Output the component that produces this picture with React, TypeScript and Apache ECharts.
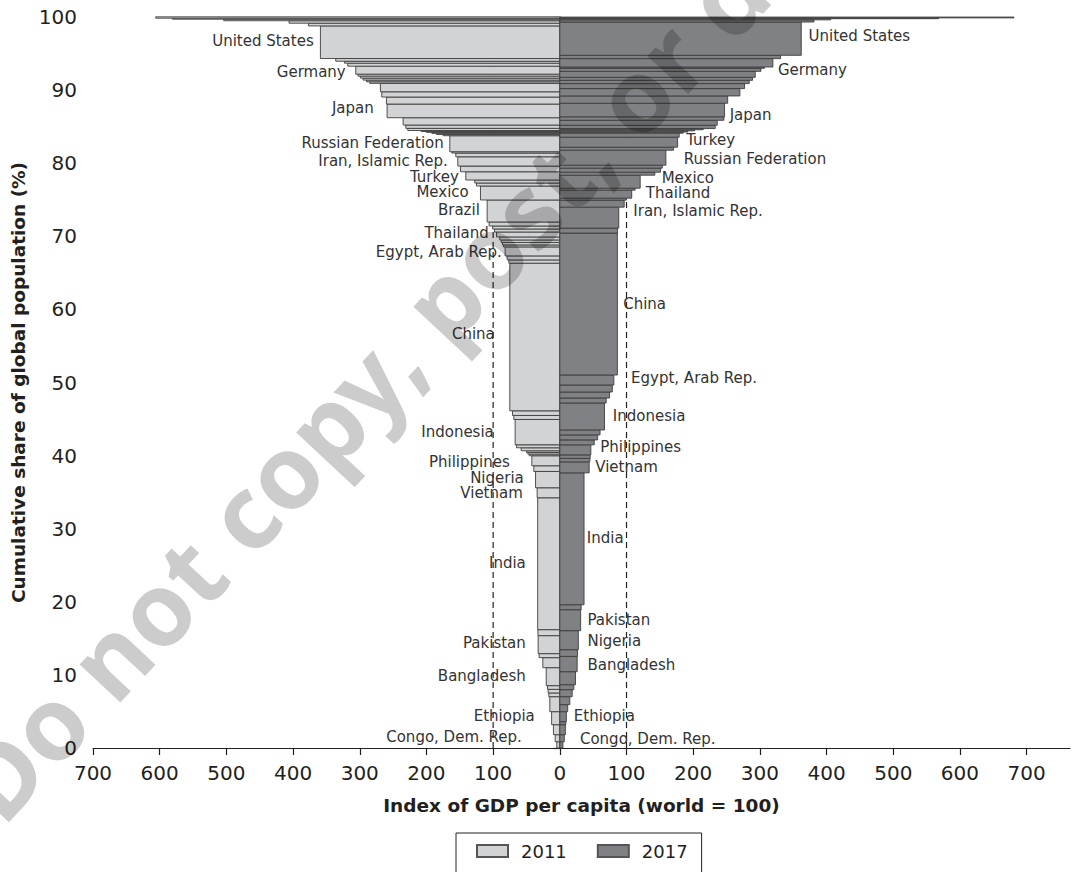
import React, { useEffect, useRef } from "react";
import * as echarts from "echarts";

// ---------- 2011 (left side), from poorest (bottom) to richest (top) ----------
const COUNTRIES_2011 = [
  "Congo, Dem. Rep.", "", "", "Ethiopia", "", "", "", "", "Bangladesh", "", "",
  "Pakistan", "", "India", "Vietnam", "Nigeria", "", "Philippines", "", "", "",
  "", "", "Indonesia", "", "", "China", "", "", "Egypt, Arab Rep.", "", "", "",
  "", "Thailand", "", "", "", "Brazil", "Mexico", "", "", "Turkey", "",
  "Iran, Islamic Rep.", "", "", "Russian Federation", "", "", "", "", "", "", "",
  "", "Japan", "", "", "", "", "", "", "", "", "Germany", "", "", "",
  "United States", "", "", "", "", "",
];
const SHARE_2011 = [
  0.86, 0.96, 1.37, 1.78, 2.05, 0.51, 0.49, 0.51, 2.46, 1.37, 0.55,
  2.46, 0.82, 18.04, 1.37, 2.23, 0.78, 1.37, 0.23, 0.22, 0.23,
  0.41, 0.41, 3.46, 0.55, 0.64, 20.19, 0.45, 0.55, 1.23, 0.27, 0.34, 0.34,
  0.41, 0.68, 0.41, 0.41, 0.55, 3.01, 1.91, 0.41, 0.41, 1.13, 0.78,
  1.27, 0.51, 0.18, 2.19, 0.16, 0.16, 0.14, 0.11, 0.14, 0.30, 0.45,
  1.0, 1.87, 0.96, 0.72, 1.15, 0.22, 0.23, 0.27, 0.27, 0.27, 1.09, 0.41, 0.27, 0.37,
  4.46, 0.37, 0.34, 0.21, 0.14, 0.18,
];
const INDEX_2011 = [
  4.5, 7, 9.6, 12.3, 15, 16.5, 17.5, 18.5, 20.4, 25.5, 31,
  32.5, 32.8, 33.2, 34, 36.4, 39, 42, 46, 48, 50,
  58, 65, 67, 69, 71, 75, 76.5, 79, 82, 84.6, 86, 88,
  90, 95, 98, 100.7, 106, 109, 119, 125, 127.5, 141, 149,
  153, 156, 162, 165, 175, 185, 192, 200, 208, 228, 231,
  235, 259, 260, 267, 269, 285, 290, 295, 299, 302.7, 306, 318, 323, 336,
  359, 377, 406, 504, 581, 606,
];

// ---------- 2017 (right side), from poorest (bottom) to richest (top) ----------
const COUNTRIES_2017 = [
  "Congo, Dem. Rep.", "", "", "", "Ethiopia", "", "", "", "", "", "Bangladesh",
  "", "Nigeria", "Pakistan", "", "India", "Vietnam", "", "", "Philippines", "",
  "", "", "Indonesia", "", "", "", "Egypt, Arab Rep.", "China", "", "",
  "Iran, Islamic Rep.", "", "Thailand", "", "Mexico", "", "", "",
  "Russian Federation", "", "Turkey", "", "", "", "", "", "", "", "", "Japan",
  "", "", "", "", "", "", "", "", "Germany", "", "United States", "", "", "", "",
];
const SHARE_2017 = [
  0.86, 0.96, 1.37, 0.41, 1.37, 0.96, 1.09, 0.96, 0.68, 1.78, 2.09,
  0.92, 2.6, 2.87, 0.68, 18.04, 1.5, 0.48, 0.48, 1.37, 0.68,
  0.68, 0.68, 3.69, 0.68, 0.82, 0.96, 1.37, 19.41, 0.68, 2.87,
  0.96, 0.27, 1.09, 0.27, 1.78, 0.41, 0.55, 0.41,
  2.05, 0.41, 1.37, 0.55, 0.16, 0.16, 0.15, 0.16, 0.45, 0.68, 0.48, 1.85,
  1.0, 1.01, 0.68, 0.45, 0.41, 0.82, 0.41, 0.18, 1.15, 0.45, 4.55, 0.3, 0.16, 0.11, 0.11,
];
const INDEX_2017 = [
  4.6, 6.7, 8.3, 9, 9.8, 11.8, 15, 18.5, 21, 23.5, 26,
  26.5, 27.7, 31.2, 32, 36.3, 44, 45, 45.5, 46.5, 51.6,
  56.7, 60.3, 67, 69.5, 74.6, 78.7, 81, 86.3, 86.4, 88.4,
  96.5, 100, 107.8, 112.9, 120.5, 142.5, 151, 153.7,
  159, 170.5, 176.6, 179, 185, 192, 202, 215, 233, 236, 246, 247,
  251.7, 270, 277, 284, 289, 293, 301.6, 306.7, 319.5, 331, 362, 381, 406, 568, 681,
];

// ---------- Country annotations (index value, cumulative share) ----------
const LABELS_2011 = [
  "United States", "Germany", "Japan", "Russian Federation", "Iran, Islamic Rep.",
  "Turkey", "Mexico", "Brazil", "Thailand", "Egypt, Arab Rep.", "China", "Indonesia",
  "Philippines", "Nigeria", "Vietnam", "India", "Pakistan", "Bangladesh", "Ethiopia",
  "Congo, Dem. Rep.",
];
const LABEL_X_2011 = [369, 321, 279, 174, 168, 151.5, 136.5, 120, 106.5, 87, 97.5, 99, 75, 54, 55.5, 51, 51, 51, 37.5, 57];
const LABEL_Y_2011 = [96.72, 92.48, 87.56, 82.78, 80.28, 78.13, 76.0, 73.58, 70.39, 67.8, 56.59, 43.28, 39.17, 36.99, 34.86, 25.37, 14.39, 9.79, 4.32, 1.48];

const LABELS_2017 = [
  "United States", "Germany", "Japan", "Turkey", "Russian Federation", "Mexico",
  "Thailand", "Iran, Islamic Rep.", "China", "Egypt, Arab Rep.", "Indonesia",
  "Philippines", "Vietnam", "India", "Pakistan", "Nigeria", "Bangladesh", "Ethiopia",
  "Congo, Dem. Rep.",
];
const LABEL_X_2017 = [373, 327, 254.7, 189.5, 185.8, 152.7, 129, 110.2, 95, 106.8, 79.5, 60.7, 53.1, 40.5, 41.4, 41.4, 41.4, 21, 30.2];
const LABEL_Y_2017 = [97.4, 92.71, 86.66, 83.15, 80.51, 78.0, 75.86, 73.48, 60.73, 50.66, 45.46, 41.22, 38.49, 28.79, 17.54, 14.67, 11.39, 4.32, 1.27];

const X_TICKS = [-700, -600, -500, -400, -300, -200, -100, 0, 100, 200, 300, 400, 500, 600, 700];
const WORLD_AVERAGE = 100;

const LIGHT = "#d2d3d5";
const DARK = "#808184";
const EDGE = "#3d3d3d";
const INK = "#231f20";
const FONT = "DejaVu Sans";
const WATERMARK_FONT = "Noto Sans";

function buildBars(shares: number[], idx: number[], names: string[], sign: number) {
  let cum = 0;
  return shares.map((s, i) => {
    const y0 = cum;
    cum += s;
    return { name: names[i], value: [sign * idx[i], y0, cum] };
  });
}

function buildLabels(names: string[], xs: number[], ys: number[], sign: number) {
  return names.map((n, i) => ({ name: n, value: [sign * xs[i], ys[i]] }));
}

export default function App() {
  const ref = useRef<HTMLDivElement>(null);

  useEffect(() => {
    document.body.style.margin = "0";
    if (!ref.current) return;
    const chart = echarts.init(ref.current, null, { renderer: "svg" });

    const barRender = (fill: string) => (params: any, api: any) => {
      const x = api.value(0);
      const y0 = api.value(1);
      const y1 = api.value(2);
      const a = api.coord([0, y1]);
      const b = api.coord([x, y0]);
      return {
        type: "rect",
        shape: {
          x: Math.min(a[0], b[0]),
          y: a[1],
          width: Math.abs(b[0] - a[0]),
          height: b[1] - a[1],
        },
        style: { fill, stroke: EDGE, lineWidth: 0.9 },
      };
    };

    const labelRender = (align: string) => (params: any, api: any) => {
      const p = api.coord([api.value(0), api.value(1)]);
      const d = params.dataIndex;
      const names = align === "right" ? LABELS_2011 : LABELS_2017;
      return {
        type: "text",
        x: p[0],
        y: p[1],
        style: {
          text: names[d],
          fill: "#333333",
          fontSize: 15,
          lineHeight: 14,
          fontFamily: FONT,
          align,
          verticalAlign: "middle",
        },
      };
    };

    const option: any = {
      animation: false,
      backgroundColor: "#ffffff",
      grid: { left: 93, right: 3, top: 17, bottom: 124, containLabel: false },
      xAxis: {
        type: "value",
        min: -700,
        max: 765,
        interval: 100,
        name: "Index of GDP per capita (world = 100)",
        nameLocation: "middle",
        nameGap: 48,
        nameTextStyle: { fontFamily: FONT, fontWeight: "bold", fontSize: 18.5, color: INK },
        axisLine: { show: true, onZero: false, lineStyle: { color: INK, width: 1.2 } },
        axisTick: { show: true, length: 7, customValues: X_TICKS, lineStyle: { color: INK, width: 1.2 } },
        axisLabel: {
          customValues: X_TICKS,
          formatter: (v: number) => String(Math.abs(v)),
          fontFamily: FONT,
          fontSize: 20,
          color: INK,
          margin: 15,
        },
        splitLine: { show: false },
      },
      yAxis: {
        type: "value",
        min: 0,
        max: 100,
        interval: 10,
        name: "Cumulative share of global population (%)",
        nameLocation: "middle",
        nameGap: 64,
        nameTextStyle: { fontFamily: FONT, fontWeight: "bold", fontSize: 18.5, color: INK },
        axisLine: { show: true, lineStyle: { color: INK, width: 1.2 } },
        axisTick: { show: true, length: 7, lineStyle: { color: INK, width: 1.2 } },
        axisLabel: { fontFamily: FONT, fontSize: 20, color: INK, margin: 16 },
        splitLine: { show: false },
      },
      legend: {
        data: ["2011", "2017"],
        left: 456,
        top: 833,
        orient: "horizontal",
        icon: "rect",
        itemWidth: 31,
        itemHeight: 12,
        itemGap: 30,
        padding: [9, 14, 22, 20],
        borderColor: INK,
        borderWidth: 1,
        borderRadius: 0,
        selectedMode: false,
        textStyle: { fontFamily: FONT, fontSize: 18, color: INK, padding: [0, 0, 0, 8] },
      },
      series: [
        {
          type: "line",
          silent: true,
          z: 1,
          symbol: "none",
          data: [[-WORLD_AVERAGE, 0], [-WORLD_AVERAGE, 100]],
          lineStyle: { color: "#222", width: 1.2, type: [6, 4] },
        },
        {
          type: "line",
          silent: true,
          z: 1,
          symbol: "none",
          data: [[WORLD_AVERAGE, 0], [WORLD_AVERAGE, 100]],
          lineStyle: { color: "#222", width: 1.2, type: [6, 4] },
        },
        {
          name: "2011",
          type: "custom",
          z: 2,
          renderItem: barRender(LIGHT),
          itemStyle: { color: LIGHT, borderColor: "#555", borderWidth: 1 },
          encode: { x: 0, y: [1, 2] },
          data: buildBars(SHARE_2011, INDEX_2011, COUNTRIES_2011, -1),
        },
        {
          name: "2017",
          type: "custom",
          z: 2,
          renderItem: barRender(DARK),
          itemStyle: { color: DARK, borderColor: "#555", borderWidth: 1 },
          encode: { x: 0, y: [1, 2] },
          data: buildBars(SHARE_2017, INDEX_2017, COUNTRIES_2017, 1),
        },
        {
          type: "custom",
          z: 3,
          silent: true,
          renderItem: labelRender("right"),
          encode: { x: 0, y: 1 },
          data: buildLabels(LABELS_2011, LABEL_X_2011, LABEL_Y_2011, -1),
        },
        {
          type: "custom",
          z: 3,
          silent: true,
          renderItem: labelRender("left"),
          encode: { x: 0, y: 1 },
          data: buildLabels(LABELS_2017, LABEL_X_2017, LABEL_Y_2017, 1),
        },
      ],
      graphic: [
        {
          type: "text",
          x: 510,
          y: 227,
          rotation: (47 * Math.PI) / 180,
          silent: true,
          z: 100,
          style: {
            text: "Do not copy, post, or distribute",
            fontSize: 102,
            fontWeight: "bold",
            fontFamily: WATERMARK_FONT,
            fill: "rgba(0,0,0,0.2)",
            align: "center",
            verticalAlign: "middle",
          },
        },
      ],
    };

    chart.setOption(option);
    return () => chart.dispose();
  }, []);

  return <div ref={ref} style={{ width: 1073, height: 872 }} />;
}
